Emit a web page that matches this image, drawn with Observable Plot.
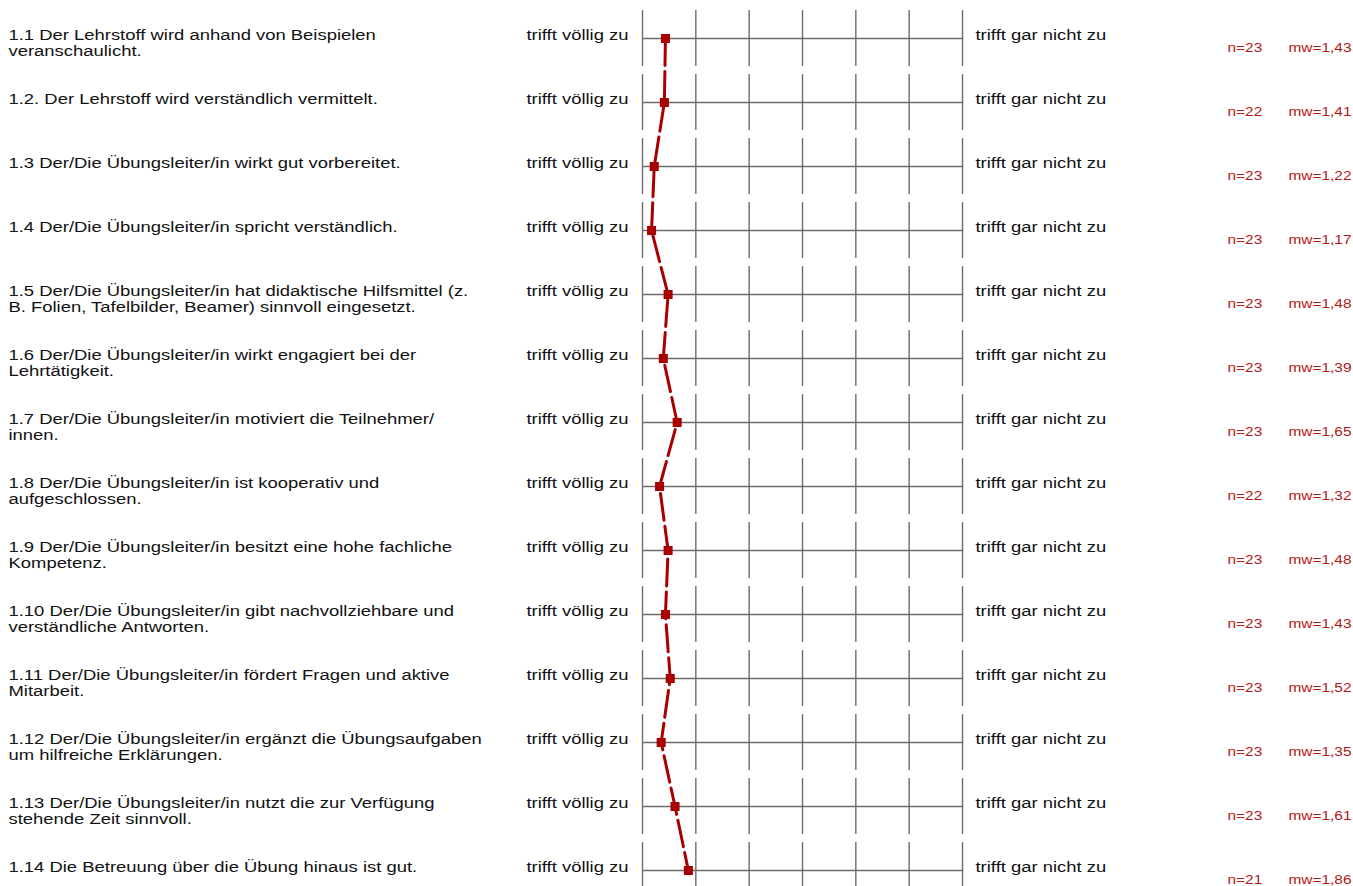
<!DOCTYPE html>
<html>
<head>
<meta charset="utf-8">
<script src="https://cdn.jsdelivr.net/npm/d3@7"></script>
<script src="https://cdn.jsdelivr.net/npm/@observablehq/plot@0.6"></script>
<style>
  body { margin: 0; background: #fff; }
  svg { display: block; }
</style>
</head>
<body>
<div id="chart"></div>
<script>
const questions = [
  "1.1 Der Lehrstoff wird anhand von Beispielen\nveranschaulicht.",
  "1.2. Der Lehrstoff wird verständlich vermittelt.",
  "1.3 Der/Die Übungsleiter/in wirkt gut vorbereitet.",
  "1.4 Der/Die Übungsleiter/in spricht verständlich.",
  "1.5 Der/Die Übungsleiter/in hat didaktische Hilfsmittel (z.\nB. Folien, Tafelbilder, Beamer) sinnvoll eingesetzt.",
  "1.6 Der/Die Übungsleiter/in wirkt engagiert bei der\nLehrtätigkeit.",
  "1.7 Der/Die Übungsleiter/in motiviert die Teilnehmer/\ninnen.",
  "1.8 Der/Die Übungsleiter/in ist kooperativ und\naufgeschlossen.",
  "1.9 Der/Die Übungsleiter/in besitzt eine hohe fachliche\nKompetenz.",
  "1.10 Der/Die Übungsleiter/in gibt nachvollziehbare und\nverständliche Antworten.",
  "1.11 Der/Die Übungsleiter/in fördert Fragen und aktive\nMitarbeit.",
  "1.12 Der/Die Übungsleiter/in ergänzt die Übungsaufgaben\num hilfreiche Erklärungen.",
  "1.13 Der/Die Übungsleiter/in nutzt die zur Verfügung\nstehende Zeit sinnvoll.",
  "1.14 Die Betreuung über die Übung hinaus ist gut."
];
const nValues = [23, 22, 23, 23, 23, 23, 23, 22, 23, 23, 23, 23, 23, 21];
const meanValues = [1.43, 1.41, 1.22, 1.17, 1.48, 1.39, 1.65, 1.32, 1.48, 1.43, 1.52, 1.35, 1.61, 1.86];
const scaleTicks = [1, 2, 3, 4, 5, 6, 7];
const leftLabel = "trifft völlig zu";
const rightLabel = "trifft gar nicht zu";

const rows = questions.map((q, i) => ({q, n: nValues[i], mw: meanValues[i]}));
const grid = rows.flatMap(r => scaleTicks.map(t => ({q: r.q, t})));

const W = 1353, H = 886;
const gridColor = "#6b6b6b";
const red = "#a80000";
const textRed = "#b01818";
const labelSize = 15.5, smallSize = 13;
const S = 1.19; // horizontal glyph stretch seen in the reference

const plot = Plot.plot({
  width: W,
  height: H,
  margin: 0,
  style: {fontFamily: "'Liberation Sans', Arial, sans-serif", background: "#fff"},
  x: {domain: [scaleTicks[0], scaleTicks[scaleTicks.length - 1]], range: [642, 962], axis: null},
  y: {type: "band", domain: questions, range: [6, 902], padding: 0, axis: null},
  marks: [
    Plot.tickX(grid, {x: "t", y: "q", stroke: gridColor, strokeWidth: 1.4, insetTop: 4, insetBottom: 4}),
    Plot.ruleY(rows, {y: "q", x1: scaleTicks[0], x2: scaleTicks[scaleTicks.length - 1], stroke: gridColor, strokeWidth: 1.4}),
    Plot.line(rows, {x: "mw", y: "q", stroke: red, strokeWidth: 3, strokeDasharray: "27,6"}),
    Plot.dot(rows, {x: "mw", y: "q", symbol: "square", r: 5.1, fill: red, stroke: "none"}),
    Plot.text(rows, {y: "q", text: "q", frameAnchor: "left", textAnchor: "start", dx: 8,
      lineAnchor: "top", dy: 1 - 0.71 * labelSize, fontSize: labelSize, lineHeight: 15.8 / labelSize, fill: "#111"}),
    Plot.text(rows, {y: "q", x: () => scaleTicks[0], text: () => leftLabel, textAnchor: "end", dx: -14,
      lineAnchor: "top", dy: 1 - 0.71 * labelSize, fontSize: labelSize, fill: "#111"}),
    Plot.text(rows, {y: "q", x: () => scaleTicks[scaleTicks.length - 1], text: () => rightLabel, textAnchor: "start", dx: 13,
      lineAnchor: "top", dy: 1 - 0.71 * labelSize, fontSize: labelSize, fill: "#111"}),
    Plot.text(rows, {y: "q", text: d => `n=${d.n}`, frameAnchor: "right", textAnchor: "start", dx: 1227 - W,
      lineAnchor: "top", dy: 13 - 0.71 * smallSize, fontSize: smallSize, fill: textRed}),
    Plot.text(rows, {y: "q", text: d => "mw=" + d.mw.toFixed(2).replace(".", ","), frameAnchor: "right", textAnchor: "end", dx: -2,
      lineAnchor: "top", dy: 13 - 0.71 * smallSize, fontSize: smallSize, fill: textRed})
  ]
});

document.getElementById("chart").appendChild(plot);

// widen glyphs horizontally around each text's anchor point
for (const t of plot.querySelectorAll("text")) {
  const x = +(t.getAttribute("x") || 0);
  const tr = t.getAttribute("transform") || "";
  t.setAttribute("transform", `${tr} translate(${x},0) scale(${S},1) translate(${-x},0)`);
}
</script>
</body>
</html>
